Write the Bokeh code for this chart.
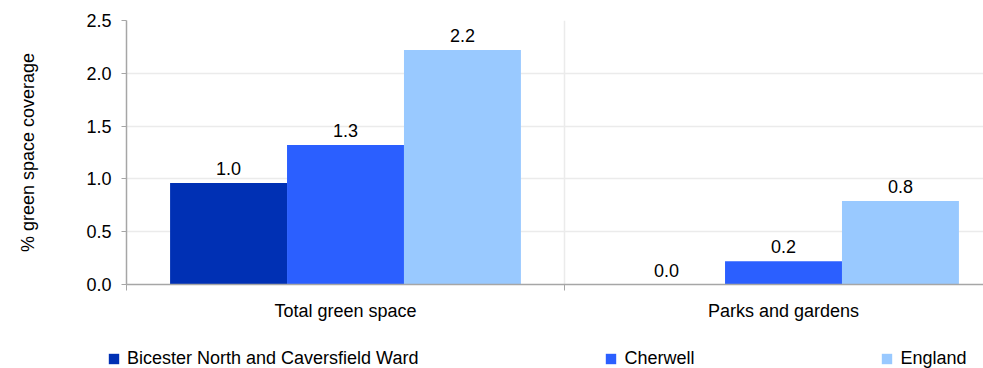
from bokeh.plotting import figure
from bokeh.layouts import column
from bokeh.models import ColumnDataSource, Range1d, FixedTicker, Legend, LegendItem
from bokeh.core.properties import value
from bokeh.embed import file_html
from bokeh.resources import INLINE

categories = ["Total green space", "Parks and gardens"]
series_names = ["Bicester North and Caversfield Ward", "Cherwell", "England"]
bicester = [0.96, 0.0]
cherwell = [1.32, 0.22]
england = [2.22, 0.79]
colors = ["#0030B4", "#2B5FFF", "#99C9FF"]
y_ticks = [0.0, 0.5, 1.0, 1.5, 2.0, 2.5]

FONT = "Liberation Sans"
FS = "18px"

p = figure(width=983, height=340, output_backend="svg", toolbar_location=None,
           x_range=Range1d(0, 1.9566), y_range=Range1d(0, 2.5),
           min_border_left=126, min_border_right=0, min_border_top=20,
           min_border_bottom=56)
p.outline_line_color = None

bar_w = 0.267
offsets = [-bar_w, 0.0, bar_w]
sources = []
for vals, off, col in zip([bicester, cherwell, england], offsets, colors):
    xs = [i + 0.5 + off for i in range(len(categories))]
    src = ColumnDataSource(dict(x=xs, top=vals, lab=[f"{v:.1f}" for v in vals]))
    sources.append(src)
    p.vbar(x="x", top="top", width=bar_w, source=src, fill_color=col, line_color=None)
    p.text(x="x", y="top", text="lab", source=src, text_align="center",
           text_baseline="bottom", y_offset=-8, text_font=value(FONT),
           text_font_size=FS, text_color="#000000")

# axes
p.yaxis.ticker = FixedTicker(ticks=y_ticks)
p.yaxis.major_label_overrides = {t: f"{t:.1f}" for t in y_ticks}
p.yaxis.axis_label = "% green space coverage"
p.yaxis.axis_label_text_font = FONT
p.yaxis.axis_label_text_font_size = FS
p.yaxis.axis_label_text_font_style = "normal"
p.yaxis.axis_label_standoff = 45
p.yaxis.major_label_text_font = FONT
p.yaxis.major_label_text_font_size = FS
p.yaxis.major_label_standoff = 10
p.yaxis.major_tick_out = 5
p.yaxis.major_tick_in = 0

p.xaxis.ticker = FixedTicker(ticks=[i + 0.5 for i in range(len(categories))],
                             minor_ticks=list(range(len(categories) + 1)))
p.xaxis.major_label_overrides = {i + 0.5: c for i, c in enumerate(categories)}
p.xaxis.major_label_text_font = FONT
p.xaxis.major_label_text_font_size = FS
p.xaxis.major_label_standoff = 10
p.xaxis.major_tick_out = 0
p.xaxis.major_tick_in = 0
p.xaxis.minor_tick_out = 6
p.xaxis.minor_tick_in = 0

for ax in (p.xaxis, p.yaxis):
    ax.axis_line_color = "#A6A6A6"
    ax.axis_line_width = 1.5
    ax.major_tick_line_color = "#A6A6A6"
    ax.minor_tick_line_color = "#A6A6A6"
    ax.major_label_text_color = "#000000"
    ax.axis_label_text_color = "#000000"
p.yaxis.minor_tick_line_color = None

p.ygrid.ticker = FixedTicker(ticks=y_ticks)
p.ygrid.grid_line_color = "#EBEBEB"
p.ygrid.grid_line_width = 1.5
p.xgrid.ticker = FixedTicker(ticks=list(range(1, len(categories))))
p.xgrid.grid_line_color = "#EBEBEB"
p.xgrid.grid_line_width = 1.5

# legend strip (separate small figure so it can sit below the axis labels)
lg = figure(width=983, height=28, output_backend="svg", toolbar_location=None,
            x_range=Range1d(0, 1), y_range=Range1d(0, 1),
            x_axis_type=None, y_axis_type=None,
            min_border_left=0, min_border_right=0, min_border_top=0,
            min_border_bottom=0)
lg.outline_line_color = None
if "frame_align" in type(lg).properties():
    lg.frame_align = False
items = []
for name, col, src in zip(series_names, colors, sources):
    r = lg.vbar(x="x", top="top", width=0.1, source=src, fill_color=col,
                line_color=None, visible=False)
    items.append(LegendItem(label=name, renderers=[r]))

legend = Legend(items=items, location=(107, -1), orientation="horizontal",
                spacing=186, padding=0, margin=0, border_line_color=None,
                background_fill_alpha=0, glyph_width=13, glyph_height=13,
                label_standoff=7, label_text_font=FONT, label_text_font_size=FS,
                label_text_color="#000000", inactive_fill_alpha=0)
lg.add_layout(legend, "center")

layout = column(p, lg, spacing=0)
open("out.html", "w").write(file_html(layout, INLINE))
